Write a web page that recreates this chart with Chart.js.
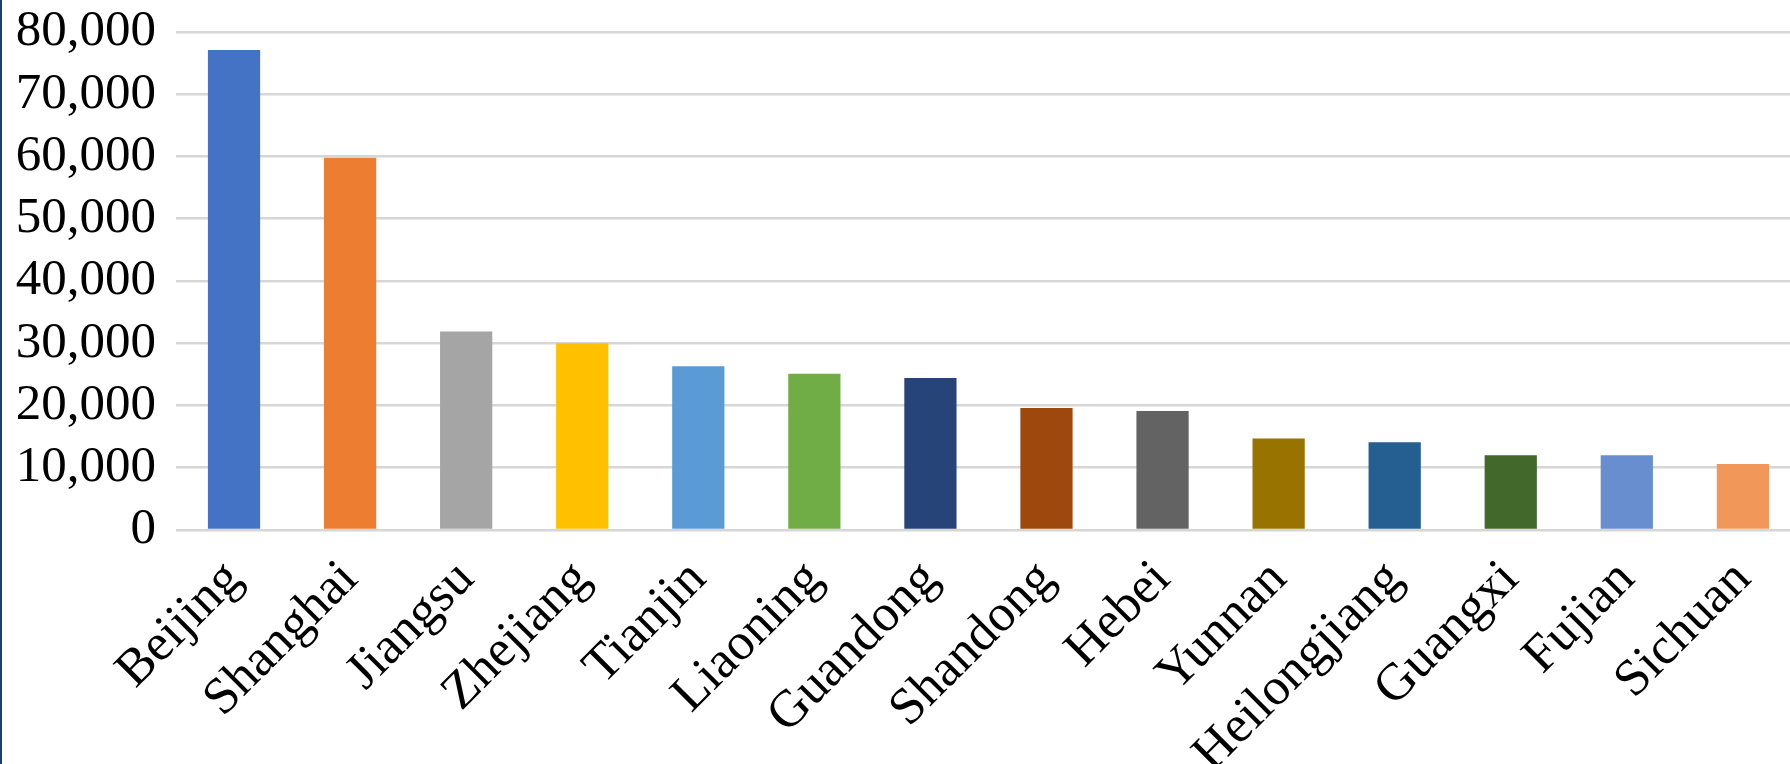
<!DOCTYPE html>
<html>
<head>
<meta charset="utf-8">
<title>Provincias</title>
<script src="https://cdn.jsdelivr.net/npm/chart.js@4.4.0/dist/chart.umd.min.js"></script>
<style>
  html, body { margin: 0; padding: 0; background: #fff; overflow: hidden; }
  #marco { position: relative; width: 1790px; height: 764px; overflow: hidden; }
  #borde { position: absolute; left: 0; top: 0; width: 2px; height: 764px; background: #17406d; }
</style>
</head>
<body>
<div id="marco">
  <canvas id="chart" width="1806" height="764"></canvas>
  <div id="borde"></div>
</div>
<script>
// datos
var provincias = ['Beijing', 'Shanghai', 'Jiangsu', 'Zhejiang', 'Tianjin', 'Liaoning', 'Guandong',
                  'Shandong', 'Hebei', 'Yunnan', 'Heilongjiang', 'Guangxi', 'Fujian', 'Sichuan'];
var valores = [77100, 59800, 31900, 30000, 26300, 25100, 24400, 19600, 19100, 14700, 14100, 12000, 12000, 10600];
var ticksY = [0, 10000, 20000, 30000, 40000, 50000, 60000, 70000, 80000];

// colores tipo excel, uno por barra
var colores = ['#4472C4', '#ED7D31', '#A5A5A5', '#FFC000', '#5B9BD5', '#70AD47', '#264478',
               '#9E480E', '#636363', '#997300', '#255E91', '#43682B', '#698ED0', '#F1975A'];

var familia = '"Liberation Serif", "DejaVu Serif", serif';

var ctx = document.getElementById('chart');

var chart = new Chart(ctx, {
  type: 'bar',
  data: {
    labels: provincias,
    datasets: [{
      data: valores,
      backgroundColor: colores,
      borderWidth: 0,
      barPercentage: 0.45,
      categoryPercentage: 1
    }]
  },
  options: {
    responsive: false,
    animation: false,
    devicePixelRatio: 1,
    layout: { padding: 0 },
    plugins: {
      legend: { display: false },
      tooltip: { enabled: false }
    },
    scales: {
      x: {
        grid: { display: false, drawTicks: false },
        border: { display: false },
        ticks: {
          font: { family: familia, size: 52 },
          color: '#000',
          minRotation: 45,
          maxRotation: 45,
          padding: 19,
          autoSkip: false
        },
        afterFit: function (s) { s.height = 234; } // deja el eje en y=530
      },
      y: {
        min: ticksY[0],
        max: ticksY[ticksY.length - 1],
        afterBuildTicks: function (s) {
          s.ticks = ticksY.map(function (v) { return { value: v }; });
        },
        grid: { color: '#d6d6d6', lineWidth: 2.5, drawTicks: false },
        border: { display: false },
        ticks: {
          // lineHeight chico para que arriba no sobre espacio
          font: { family: familia, size: 51, lineHeight: 0.47 },
          color: '#000',
          padding: 20,
          autoSkip: false,
          callback: function (v) { return v.toLocaleString('en-US'); }
        },
        afterFit: function (s) { s.width = 176; }
      }
    }
  }
});
</script>
</body>
</html>
